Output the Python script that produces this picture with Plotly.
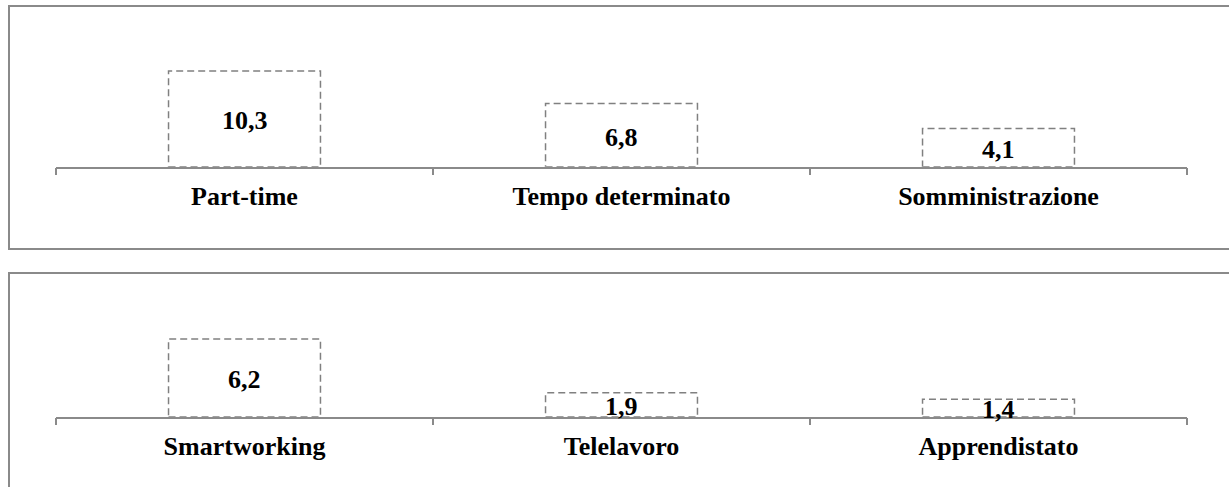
import plotly.graph_objects as go

# ---- data ----
top_categories = ["Part-time", "Tempo determinato", "Somministrazione"]
top_values = [10.3, 6.8, 4.1]
bottom_categories = ["Smartworking", "Telelavoro", "Apprendistato"]
bottom_values = [6.2, 1.9, 1.4]

W, H = 1229, 487
FONT = "Liberation Serif"
GRAY = "#8a8a8a"
BAR_W = 0.403

def fmt(v):
    return f"{v:.1f}".replace(".", ",")

fig = go.Figure()

panels = [
    (top_categories, top_values, "x", "y"),
    (bottom_categories, bottom_values, "x2", "y2"),
]

for cats, vals, xa, ya in panels:
    fig.add_trace(go.Bar(
        x=cats, y=vals, xaxis=xa, yaxis=ya, width=BAR_W,
        marker=dict(color="white", line=dict(width=0)),
        hoverinfo="skip",
    ))
    for c, v in zip(cats, vals):
        fig.add_shape(
            type="rect", xref=xa, yref=ya,
            x0=c, x1=c, x0shift=-BAR_W / 2, x1shift=BAR_W / 2,
            y0=0, y1=v,
            line=dict(color="#808080", width=1.5, dash="7px,4px"),
            fillcolor="rgba(0,0,0,0)", layer="above",
        )
        fig.add_annotation(
            xref=xa, yref=ya, x=c, y=v / 2, yshift=-2,
            text=fmt(v), showarrow=False,
            xanchor="center", yanchor="middle",
            font=dict(family=FONT, size=26, color="black", weight="bold"),
        )

# panel frames
def py(p):
    return 1 - p / H

fig.add_shape(type="rect", xref="paper", yref="paper",
              x0=9 / W, x1=1.08, y0=py(249), y1=py(6),
              line=dict(color=GRAY, width=2), layer="below")
fig.add_shape(type="rect", xref="paper", yref="paper",
              x0=9 / W, x1=1.08, y0=-0.08, y1=py(273),
              line=dict(color=GRAY, width=2), layer="below")

xdom = [56 / W, 1187 / W]
xcommon = dict(
    domain=xdom, type="category", range=[-0.5, 2.5],
    showline=True, linecolor=GRAY, linewidth=1.5,
    ticks="outside", tickson="boundaries", ticklen=7, tickwidth=1.5, tickcolor=GRAY,
    showgrid=False, zeroline=False,
    tickfont=dict(family=FONT, size=26, color="black", weight="bold"),
    ticklabelstandoff=5,
)
ycommon = dict(visible=False, showgrid=False, zeroline=False)

top_axis_px, top_dom_px, top_scale = 166.7, 6, 9.3
bot_axis_px, bot_dom_px, bot_scale = 416.7, 273, 12.55

fig.update_layout(
    width=W, height=H,
    margin=dict(l=0, r=0, t=0, b=0),
    paper_bgcolor="white", plot_bgcolor="rgba(0,0,0,0)",
    showlegend=False,
    xaxis=dict(xcommon, anchor="y"),
    yaxis=dict(ycommon, domain=[py(top_axis_px), py(top_dom_px)],
               range=[0, (top_axis_px - top_dom_px) / top_scale], anchor="x"),
    xaxis2=dict(xcommon, anchor="y2"),
    yaxis2=dict(ycommon, domain=[py(bot_axis_px), py(bot_dom_px)],
                range=[0, (bot_axis_px - bot_dom_px) / bot_scale], anchor="x2"),
)

fig.write_html("out.html", config={"displayModeBar": False},
               post_script="document.body.style.margin='0px';")
